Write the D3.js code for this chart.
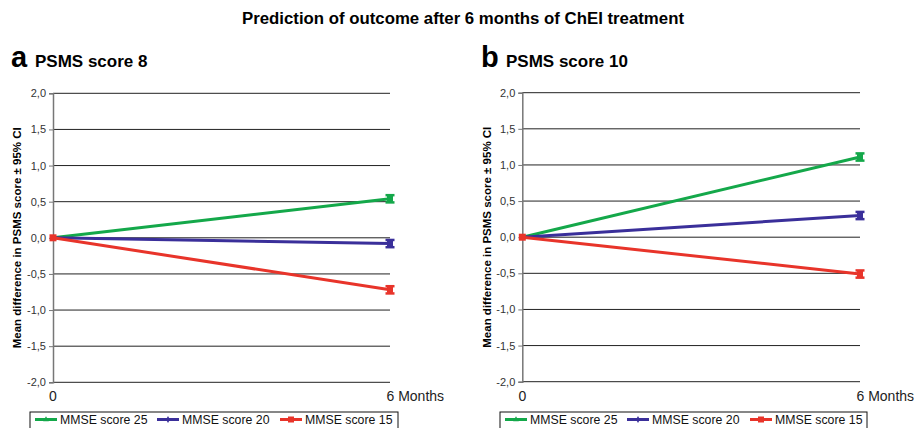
<!DOCTYPE html>
<html><head><meta charset="utf-8">
<script src="https://cdn.jsdelivr.net/npm/d3@7"></script>
<style>body{margin:0;background:#fff}svg{display:block;font-family:"Liberation Sans",Arial,sans-serif}</style>
</head><body><div id="chart"></div>
<script>
// ---- data ----
const timepoints = [0, 6];
const timeLabels = ["0", "6 Months"];
const seriesNames = ["MMSE score 25", "MMSE score 20", "MMSE score 15"];
const seriesColors = ["#14a84a", "#3a2f9a", "#e8342a"];
const panelTitles = ["PSMS score 8", "PSMS score 10"];
const panelLetters = ["a", "b"];
const panelA_values = [[0, 0.54], [0, -0.08], [0, -0.72]];
const panelB_values = [[0, 1.11], [0, 0.30], [0, -0.51]];
const panelA_ci = [[0, 0.05], [0, 0.05], [0, 0.05]];
const panelB_ci = [[0, 0.05], [0, 0.05], [0, 0.05]];
const yTicks = [-2, -1.5, -1, -0.5, 0, 0.5, 1, 1.5, 2];
const yLabel = "Mean difference in PSMS score \u00b1 95% CI";
const mainTitle = "Prediction of outcome after 6 months of ChEI treatment";

const W = 915, H = 428;
const svg = d3.select("#chart").append("svg").attr("width", W).attr("height", H);

svg.append("text").attr("x", 463).attr("y", 23.5).attr("text-anchor", "middle")
  .attr("font-size", 16.8).attr("font-weight", "bold").text(mainTitle);

const panels = [
  {x0: 53, x1: 390, y0: 93.3, y1: 382.3, vals: panelA_values, ci: panelA_ci, letterX: 11, titleX: 35, ylabX: 17, legX: 30, legW: 368},
  {x0: 522.3, x1: 860, y0: 92.7, y1: 381.7, vals: panelB_values, ci: panelB_ci, letterX: 481, titleX: 506, ylabX: 487, legX: 500, legW: 367}
];

panels.forEach((p, pi) => {
  const g = svg.append("g");
  const x = d3.scaleLinear().domain([0, 6]).range([p.x0, p.x1]);
  const y = d3.scaleLinear().domain([-2, 2]).range([p.y1, p.y0]);

  // panel heading
  g.append("text").attr("x", p.letterX).attr("y", 67).attr("font-size", 29).attr("font-weight", "bold").text(panelLetters[pi]);
  g.append("text").attr("x", p.titleX).attr("y", 67).attr("font-size", 17).attr("font-weight", "bold").text(panelTitles[pi]);

  // gridlines
  g.selectAll(".grid").data(yTicks).enter().append("line")
    .attr("x1", p.x0).attr("x2", p.x1).attr("y1", d => y(d)).attr("y2", d => y(d))
    .attr("stroke", "#222").attr("stroke-width", 1);

  // y axis
  const ya = d3.axisLeft(y).tickValues(yTicks).tickSize(4).tickPadding(3)
    .tickFormat(d => d3.format(".1f")(d).replace(".", ",").replace("\u2212", "-"));
  const yg = g.append("g").attr("transform", `translate(${p.x0},0)`).call(ya);
  yg.select(".domain").attr("stroke", "#777").attr("stroke-width", 1.5);
  yg.selectAll(".tick line").attr("stroke", "#777");
  yg.selectAll(".tick text").attr("font-size", 11).attr("fill", "#333").attr("font-family", "Liberation Sans, Arial, sans-serif");

  // x labels
  g.append("text").attr("x", x(timepoints[0])).attr("y", 401).attr("text-anchor", "middle").attr("font-size", 14).attr("fill", "#222").text(timeLabels[0]);
  g.append("text").attr("x", x(timepoints[1]) - 3.5).attr("y", 401).attr("text-anchor", "start").attr("font-size", 14).attr("fill", "#222").text(timeLabels[1]);

  // y label
  g.append("text").attr("transform", `translate(${p.ylabX + 4},${(p.y0 + p.y1) / 2}) rotate(-90)`)
    .attr("text-anchor", "middle").attr("font-size", 11.5).attr("font-weight", "bold").text(yLabel);

  // series lines
  const line = d3.line().x((d, i) => x(timepoints[i])).y(d => y(d));
  p.vals.forEach((vals, si) => {
    g.append("path").attr("d", line(vals)).attr("fill", "none")
      .attr("stroke", seriesColors[si]).attr("stroke-width", 3);
  });
  // error bars at 6 months
  p.vals.forEach((vals, si) => {
    const i = 1, cx = x(timepoints[i]);
    const lo = y(vals[i] - p.ci[si][i]), hi = y(vals[i] + p.ci[si][i]);
    const c = seriesColors[si];
    g.append("line").attr("x1", cx).attr("x2", cx).attr("y1", lo).attr("y2", hi).attr("stroke", c).attr("stroke-width", 3);
    [lo, hi].forEach(yy => g.append("line").attr("x1", cx - 4.5).attr("x2", cx + 4.5).attr("y1", yy).attr("y2", yy).attr("stroke", c).attr("stroke-width", 2.5));
    g.append("rect").attr("x", cx - 3).attr("y", y(vals[i]) - 3).attr("width", 6).attr("height", 6).attr("fill", c);
  });
  // marker at 0 (red square on top)
  g.append("rect").attr("x", x(0) - 3.5).attr("y", y(p.vals[2][0]) - 3.5).attr("width", 7).attr("height", 7).attr("fill", seriesColors[2]);

  // legend
  const lg = g.append("g");
  lg.append("rect").attr("x", p.legX).attr("y", 412).attr("width", p.legW).attr("height", 30)
    .attr("fill", "#fff").attr("stroke", "#111").attr("stroke-width", 1);
  const offs = [5, 127, 250];
  seriesNames.forEach((n, si) => {
    const lx = p.legX + offs[si];
    lg.append("line").attr("x1", lx).attr("x2", lx + 22).attr("y1", 419.5).attr("y2", 419.5)
      .attr("stroke", seriesColors[si]).attr("stroke-width", 3);
    if (si === 0) lg.append("path").attr("d", d3.symbol(d3.symbolTriangle, 14)()).attr("transform", `translate(${lx + 11},419.5)`).attr("fill", seriesColors[si]);
    if (si === 1) lg.append("path").attr("d", d3.symbol(d3.symbolDiamond, 14)()).attr("transform", `translate(${lx + 11},419.5)`).attr("fill", seriesColors[si]);
    if (si === 2) lg.append("rect").attr("x", lx + 8).attr("y", 416.5).attr("width", 6).attr("height", 6).attr("fill", seriesColors[si]);
    lg.append("text").attr("x", lx + 25).attr("y", 423.5).attr("font-size", 12.3).attr("fill", "#111").text(n);
  });
});
</script></body></html>
